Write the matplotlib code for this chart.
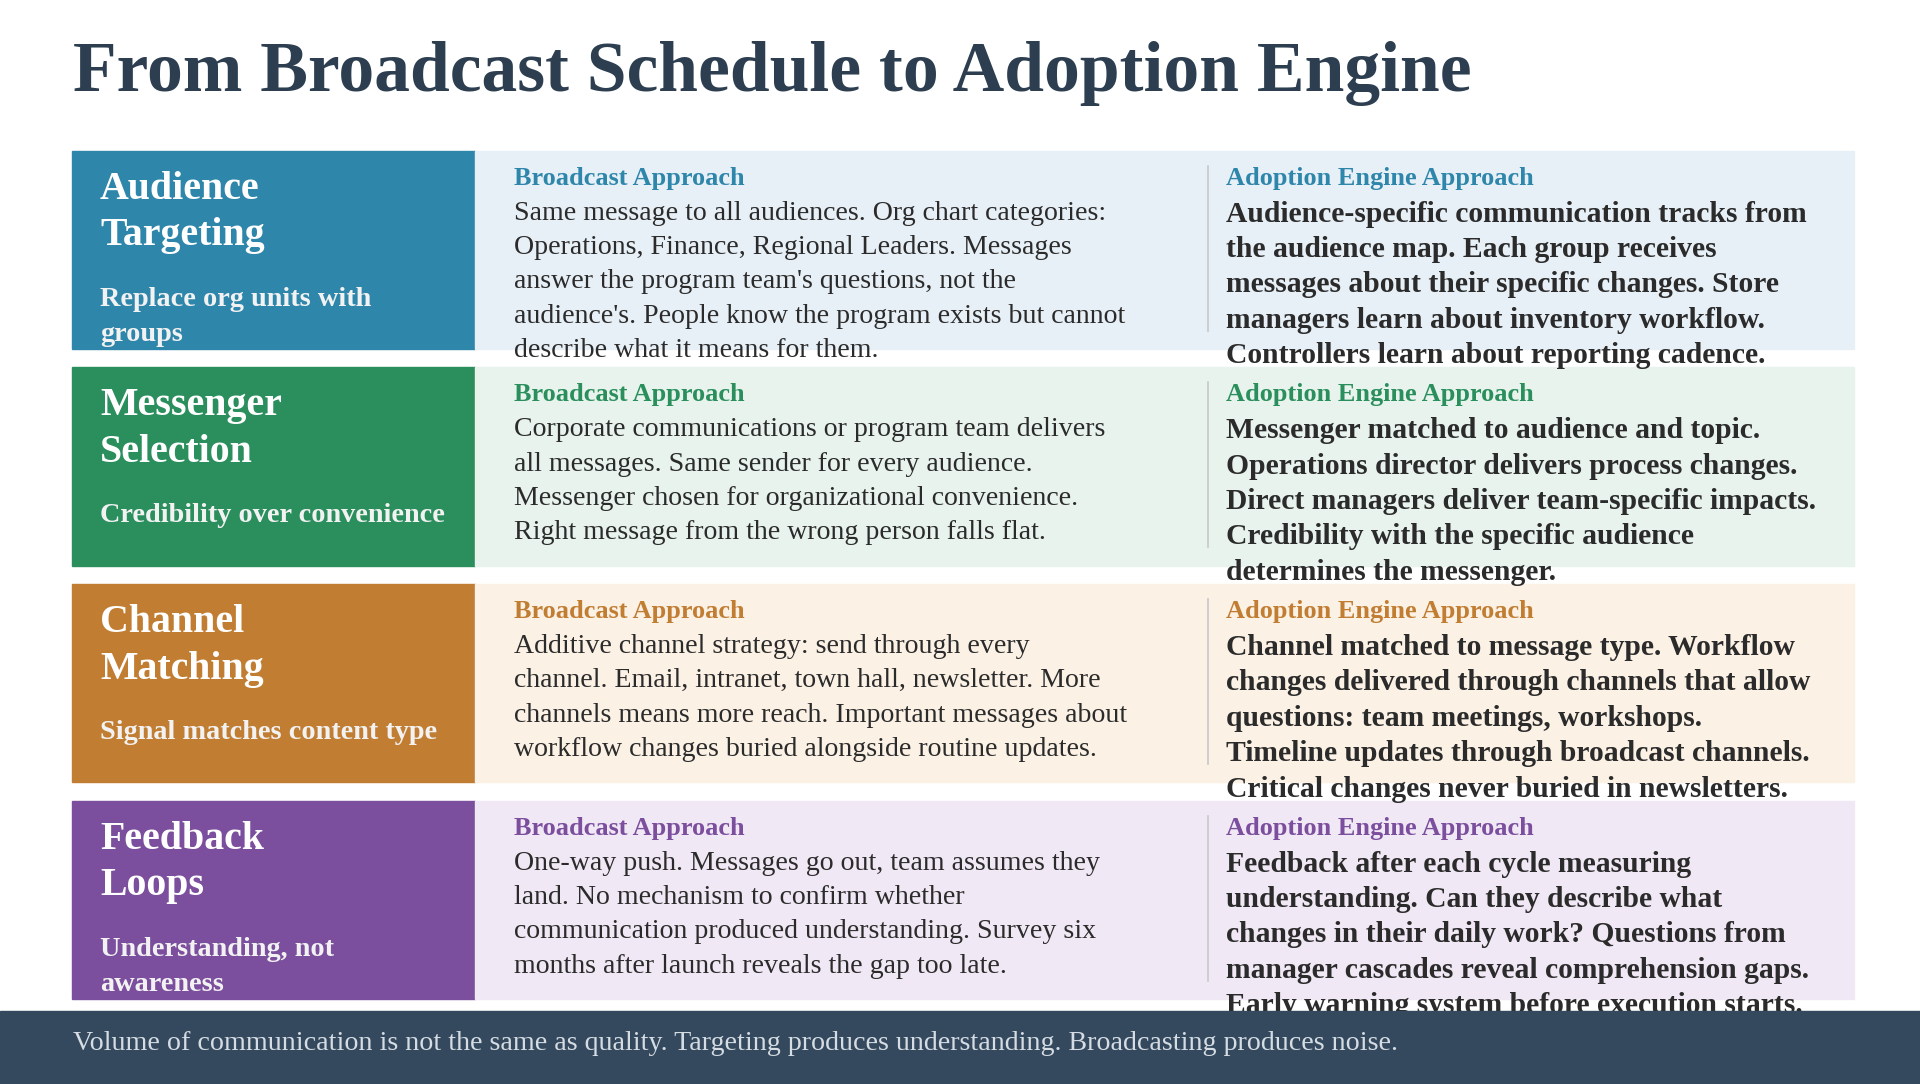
import matplotlib.pyplot as plt
from matplotlib.patches import Rectangle

TITLE = "From Broadcast Schedule to Adoption Engine"
FOOTER = ("Volume of communication is not the same as quality. Targeting produces "
          "understanding. Broadcasting produces noise.")

row_titles = ["Audience\nTargeting", "Messenger\nSelection", "Channel\nMatching", "Feedback\nLoops"]
row_subtitles = ["Replace org units with\ngroups", "Credibility over convenience",
                 "Signal matches content type", "Understanding, not\nawareness"]
broadcast_text = [
    "Same message to all audiences. Org chart categories:\nOperations, Finance, Regional Leaders. Messages\n"
    "answer the program team's questions, not the\naudience's. People know the program exists but cannot\n"
    "describe what it means for them.",
    "Corporate communications or program team delivers\nall messages. Same sender for every audience.\n"
    "Messenger chosen for organizational convenience.\nRight message from the wrong person falls flat.",
    "Additive channel strategy: send through every\nchannel. Email, intranet, town hall, newsletter. More\n"
    "channels means more reach. Important messages about\nworkflow changes buried alongside routine updates.",
    "One-way push. Messages go out, team assumes they\nland. No mechanism to confirm whether\n"
    "communication produced understanding. Survey six\nmonths after launch reveals the gap too late.",
]
adoption_text = [
    "Audience-specific communication tracks from\nthe audience map. Each group receives\n"
    "messages about their specific changes. Store\nmanagers learn about inventory workflow.\n"
    "Controllers learn about reporting cadence.",
    "Messenger matched to audience and topic.\nOperations director delivers process changes.\n"
    "Direct managers deliver team-specific impacts.\nCredibility with the specific audience\n"
    "determines the messenger.",
    "Channel matched to message type. Workflow\nchanges delivered through channels that allow\n"
    "questions: team meetings, workshops.\nTimeline updates through broadcast channels.\n"
    "Critical changes never buried in newsletters.",
    "Feedback after each cycle measuring\nunderstanding. Can they describe what\n"
    "changes in their daily work? Questions from\nmanager cascades reveal comprehension gaps.\n"
    "Early warning system before execution starts.",
]
strong_colors = ["#2E86AB", "#2A8F5C", "#C17D32", "#7B4E9E"]
light_colors = ["#E8F0F7", "#E7F3EC", "#FBF1E5", "#F1E8F5"]

SERIF = ["Liberation Serif", "DejaVu Serif"]
plt.rcParams["font.family"] = SERIF

fig = plt.figure(figsize=(19.2, 10.84), dpi=100)
ax = fig.add_axes([0, 0, 1, 1])
ax.set_xlim(0, 1920)
ax.set_ylim(1084, 0)
ax.axis("off")

ax.text(73, 73, TITLE, fontsize=51.5, fontweight="bold", color="#2C3E50", va="center")

row_top, row_h, row_step = 150.6, 198.4, 216.7
for i in range(4):
    y0 = row_top + i * row_step
    ax.add_patch(Rectangle((72, y0), 403, row_h, color=strong_colors[i], zorder=1))
    ax.add_patch(Rectangle((475, y0), 1379, row_h, color=light_colors[i], zorder=1))
    ax.plot([1208, 1208], [y0 + 15, y0 + 180], color="#c8c8c8", lw=1.2, zorder=2)
    ax.text(100, y0 + 20, row_titles[i], fontsize=28.7, fontweight="bold", color="white",
            va="top", linespacing=1.35, zorder=3)
    ax.text(100, y0 + 136, row_subtitles[i], fontsize=20.3, fontweight="bold", color="#f2f2f2",
            va="top", linespacing=1.55, zorder=3)
    for x, body, weight, size, ls, label in [
            (514, broadcast_text[i], "normal", 20.1, 1.49, "Broadcast Approach"),
            (1226, adoption_text[i], "bold", 21.3, 1.40, "Adoption Engine Approach")]:
        ax.text(x, y0 + 16, label, fontsize=18.9, fontweight="bold", color=strong_colors[i],
                va="top", zorder=3)
        ax.text(x, y0 + 50, body, fontsize=size, fontweight=weight, color="#2b2b2b",
                va="top", linespacing=ls, zorder=3)

ax.add_patch(Rectangle((0, 1011), 1920, 73, color="#34495E", zorder=5))
ax.text(73, 1043, FOOTER, fontsize=20.2, color="#d5dce3", va="center", zorder=6)

fig.savefig("out.png", dpi=100)
